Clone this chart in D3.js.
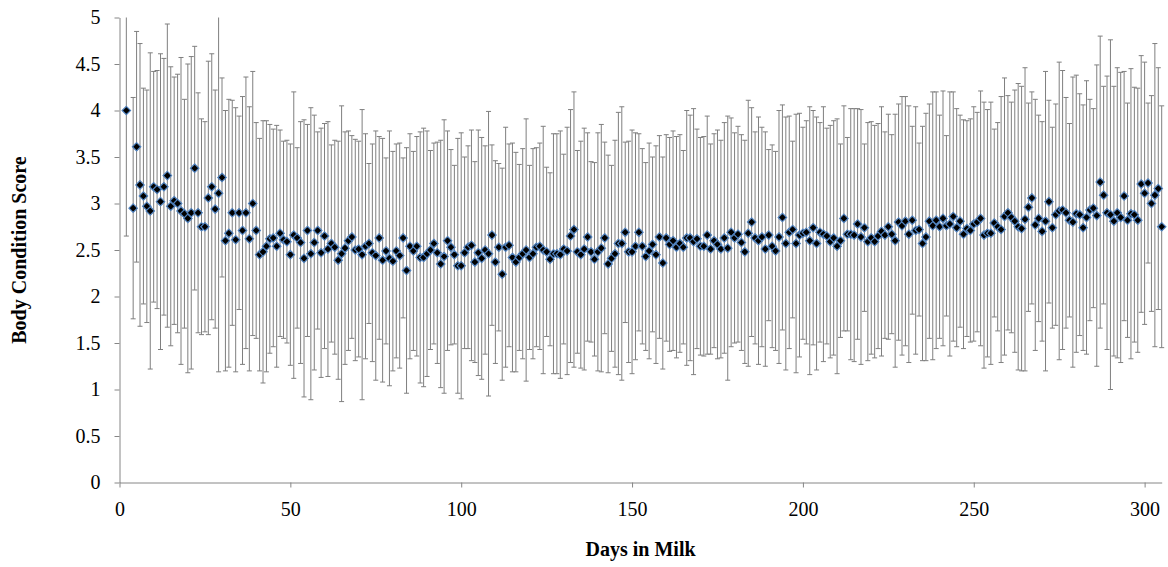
<!DOCTYPE html>
<html>
<head>
<meta charset="UTF-8">
<title>Body Condition Score by Days in Milk</title>
<script src="https://d3js.org/d3.v7.min.js"></script>
<style>
  body { margin: 0; background: #fff; }
  svg { display: block; }
</style>
</head>
<body>
<svg id="chart" width="1168" height="567"></svg>
<script>
// days in milk (day 3 has no record)
var days = [
  2, 4, 5, 6, 7, 8, 9, 10, 11, 12,
  13, 14, 15, 16, 17, 18, 19, 20, 21, 22,
  23, 24, 25, 26, 27, 28, 29, 30, 31, 32,
  33, 34, 35, 36, 37, 38, 39, 40, 41, 42,
  43, 44, 45, 46, 47, 48, 49, 50, 51, 52,
  53, 54, 55, 56, 57, 58, 59, 60, 61, 62,
  63, 64, 65, 66, 67, 68, 69, 70, 71, 72,
  73, 74, 75, 76, 77, 78, 79, 80, 81, 82,
  83, 84, 85, 86, 87, 88, 89, 90, 91, 92,
  93, 94, 95, 96, 97, 98, 99, 100, 101, 102,
  103, 104, 105, 106, 107, 108, 109, 110, 111, 112,
  113, 114, 115, 116, 117, 118, 119, 120, 121, 122,
  123, 124, 125, 126, 127, 128, 129, 130, 131, 132,
  133, 134, 135, 136, 137, 138, 139, 140, 141, 142,
  143, 144, 145, 146, 147, 148, 149, 150, 151, 152,
  153, 154, 155, 156, 157, 158, 159, 160, 161, 162,
  163, 164, 165, 166, 167, 168, 169, 170, 171, 172,
  173, 174, 175, 176, 177, 178, 179, 180, 181, 182,
  183, 184, 185, 186, 187, 188, 189, 190, 191, 192,
  193, 194, 195, 196, 197, 198, 199, 200, 201, 202,
  203, 204, 205, 206, 207, 208, 209, 210, 211, 212,
  213, 214, 215, 216, 217, 218, 219, 220, 221, 222,
  223, 224, 225, 226, 227, 228, 229, 230, 231, 232,
  233, 234, 235, 236, 237, 238, 239, 240, 241, 242,
  243, 244, 245, 246, 247, 248, 249, 250, 251, 252,
  253, 254, 255, 256, 257, 258, 259, 260, 261, 262,
  263, 264, 265, 266, 267, 268, 269, 270, 271, 272,
  273, 274, 275, 276, 277, 278, 279, 280, 281, 282,
  283, 284, 285, 286, 287, 288, 289, 290, 291, 292,
  293, 294, 295, 296, 297, 298, 299, 300, 301, 302,
  303, 304, 305
];

// mean body condition score per day
var meanBCS = [
  4.00, 2.95, 3.61, 3.20, 3.08, 2.97, 2.92, 3.18, 3.15, 3.02,
  3.18, 3.30, 2.97, 3.03, 3.00, 2.92, 2.89, 2.84, 2.90, 3.38,
  2.90, 2.75, 2.75, 3.06, 3.18, 2.94, 3.11, 3.28, 2.60, 2.68,
  2.90, 2.61, 2.90, 2.71, 2.90, 2.62, 3.00, 2.71, 2.45, 2.48,
  2.54, 2.62, 2.63, 2.54, 2.68, 2.61, 2.59, 2.45, 2.66, 2.63,
  2.58, 2.41, 2.71, 2.46, 2.58, 2.71, 2.47, 2.65, 2.51, 2.57,
  2.53, 2.39, 2.46, 2.52, 2.60, 2.64, 2.50, 2.51, 2.45, 2.54,
  2.57, 2.47, 2.44, 2.63, 2.39, 2.49, 2.41, 2.38, 2.49, 2.44,
  2.63, 2.28, 2.54, 2.49, 2.54, 2.42, 2.42, 2.46, 2.50, 2.57,
  2.47, 2.35, 2.43, 2.60, 2.53, 2.45, 2.33, 2.33, 2.47, 2.53,
  2.55, 2.37, 2.47, 2.41, 2.50, 2.46, 2.66, 2.37, 2.53, 2.24,
  2.53, 2.55, 2.42, 2.37, 2.42, 2.46, 2.50, 2.42, 2.46, 2.53,
  2.54, 2.50, 2.48, 2.40, 2.46, 2.46, 2.45, 2.51, 2.49, 2.65,
  2.72, 2.48, 2.45, 2.51, 2.64, 2.48, 2.40, 2.48, 2.52, 2.63,
  2.35, 2.41, 2.46, 2.57, 2.57, 2.69, 2.48, 2.48, 2.54, 2.69,
  2.54, 2.43, 2.49, 2.56, 2.45, 2.64, 2.36, 2.63, 2.56, 2.60,
  2.53, 2.57, 2.53, 2.63, 2.63, 2.59, 2.62, 2.54, 2.54, 2.66,
  2.51, 2.60, 2.56, 2.51, 2.63, 2.52, 2.69, 2.63, 2.67, 2.58,
  2.48, 2.68, 2.80, 2.63, 2.60, 2.64, 2.51, 2.66, 2.54, 2.49,
  2.64, 2.85, 2.57, 2.69, 2.72, 2.57, 2.66, 2.68, 2.69, 2.60,
  2.74, 2.57, 2.69, 2.67, 2.65, 2.59, 2.63, 2.54, 2.60, 2.84,
  2.67, 2.67, 2.66, 2.78, 2.64, 2.74, 2.59, 2.63, 2.59, 2.65,
  2.70, 2.66, 2.75, 2.67, 2.60, 2.80, 2.76, 2.81, 2.67, 2.82,
  2.71, 2.72, 2.57, 2.64, 2.81, 2.76, 2.82, 2.75, 2.84, 2.76,
  2.78, 2.86, 2.74, 2.81, 2.67, 2.73, 2.71, 2.78, 2.80, 2.84,
  2.66, 2.68, 2.68, 2.79, 2.75, 2.72, 2.86, 2.90, 2.85, 2.81,
  2.75, 2.73, 2.83, 2.96, 3.06, 2.77, 2.84, 2.70, 2.81, 3.02,
  2.74, 2.88, 2.92, 2.93, 2.90, 2.82, 2.80, 2.89, 2.88, 2.74,
  2.85, 2.93, 2.95, 2.87, 3.23, 3.09, 2.90, 2.88, 2.81, 2.90,
  2.85, 3.08, 2.82, 2.89, 2.88, 2.82, 3.21, 3.11, 3.22, 3.00,
  3.09, 3.16, 2.75
];

// standard deviation per day (error bar half-length)
var sdBCS = [
  1.35, 1.19, 1.24, 1.52, 1.16, 1.25, 1.70, 1.24, 1.28, 1.59,
  1.38, 1.63, 1.50, 1.33, 1.39, 1.65, 1.23, 1.66, 1.68, 1.31,
  1.29, 1.16, 1.13, 1.47, 1.43, 1.28, 1.92, 1.07, 1.40, 1.44,
  1.21, 1.42, 1.04, 1.44, 1.46, 1.42, 1.42, 1.16, 1.25, 1.41,
  1.35, 1.23, 1.17, 1.30, 1.11, 1.06, 1.09, 1.19, 1.54, 0.97,
  1.30, 1.49, 1.14, 1.57, 1.37, 1.06, 1.34, 1.21, 1.37, 1.06,
  1.15, 1.28, 1.59, 1.25, 1.18, 1.09, 1.19, 1.16, 1.56, 1.21,
  0.86, 1.17, 1.34, 1.09, 1.31, 1.00, 1.37, 1.18, 1.15, 1.21,
  0.86, 1.32, 1.21, 1.07, 1.18, 1.35, 1.39, 1.32, 1.07, 1.08,
  1.19, 1.33, 1.47, 1.18, 1.05, 0.96, 1.37, 1.43, 1.03, 1.09,
  1.24, 1.08, 1.32, 1.30, 1.12, 1.53, 0.97, 1.09, 0.90, 1.14,
  1.29, 1.09, 1.23, 1.18, 1.00, 1.13, 1.41, 0.99, 1.13, 1.07,
  1.11, 1.33, 0.91, 0.93, 1.29, 1.29, 1.33, 1.02, 1.33, 1.36,
  1.48, 1.09, 1.22, 1.30, 1.12, 0.97, 1.04, 1.28, 1.33, 1.03,
  1.17, 1.00, 1.22, 1.41, 1.47, 0.97, 1.19, 1.31, 1.22, 1.06,
  1.05, 1.01, 1.16, 0.94, 1.17, 1.09, 1.14, 1.11, 1.15, 1.18,
  1.19, 1.17, 1.04, 1.37, 1.32, 1.43, 1.18, 1.17, 1.18, 1.28,
  1.13, 1.15, 1.23, 1.17, 1.24, 1.42, 1.23, 1.13, 1.16, 1.16,
  1.20, 1.43, 1.23, 1.14, 1.33, 1.18, 1.26, 0.92, 1.09, 1.07,
  1.36, 1.21, 1.36, 1.25, 0.95, 1.39, 1.31, 1.14, 1.20, 1.44,
  1.26, 1.36, 1.18, 1.37, 1.16, 1.25, 1.26, 1.37, 1.04, 1.21,
  1.04, 1.35, 1.36, 1.24, 1.37, 0.90, 1.28, 1.25, 1.25, 1.21,
  1.34, 1.11, 1.21, 1.07, 1.36, 1.27, 1.39, 1.34, 1.38, 1.01,
  1.33, 0.93, 1.26, 1.33, 1.26, 1.44, 1.38, 1.20, 1.37, 0.97,
  1.42, 1.34, 1.28, 1.14, 1.23, 1.16, 1.20, 1.26, 1.18, 1.37,
  1.43, 1.33, 1.41, 1.01, 1.12, 1.43, 1.49, 1.26, 1.24, 1.41,
  1.54, 1.53, 1.63, 1.12, 1.14, 1.35, 1.11, 1.18, 1.61, 1.09,
  1.08, 1.19, 1.60, 1.50, 1.24, 1.04, 1.56, 1.49, 1.30, 1.32,
  1.47, 1.19, 1.07, 1.62, 1.57, 1.17, 1.47, 1.88, 1.45, 1.56,
  1.56, 1.34, 1.26, 1.56, 1.37, 1.42, 1.38, 1.41, 0.86, 1.16,
  1.63, 1.30, 1.30
];

var xTicks = [0, 50, 100, 150, 200, 250, 300];
var yTicks = [0, 0.5, 1, 1.5, 2, 2.5, 3, 3.5, 4, 4.5, 5];

(function drawChart() {
  var plotLeft = 119.5, plotRight = 1161.7, plotTop = 17.5, plotBottom = 482.5;
  var axisColor = "#868686";
  var barColor = "#7f7f7f";
  var fontFamily = "'Liberation Serif', 'Times New Roman', serif";

  var svg = d3.select("#chart");

  var x = d3.scaleLinear().domain([0, 305]).range([plotLeft, plotRight]);
  var y = d3.scaleLinear().domain([0, 5]).range([plotBottom, plotTop]);

  var data = days.map(function (d, i) {
    return { day: d, mean: meanBCS[i], sd: sdBCS[i] };
  });

  svg.append("defs").append("clipPath").attr("id", "plotClip")
    .append("rect")
    .attr("x", plotLeft - 10).attr("y", plotTop)
    .attr("width", plotRight - plotLeft + 20).attr("height", plotBottom - plotTop);

  // error bars, clipped to the plot area like the spreadsheet does
  var bars = svg.append("g").attr("clip-path", "url(#plotClip)")
    .attr("stroke", barColor).attr("stroke-width", 1).attr("fill", "none");

  bars.selectAll("line.stem").data(data).enter().append("line")
    .attr("class", "stem")
    .attr("x1", function (d) { return x(d.day); })
    .attr("x2", function (d) { return x(d.day); })
    .attr("y1", function (d) { return y(d.mean + d.sd); })
    .attr("y2", function (d) { return y(Math.max(0, d.mean - d.sd)); });

  bars.selectAll("line.capHi").data(data).enter().append("line")
    .attr("class", "capHi")
    .attr("x1", function (d) { return x(d.day) - 2.5; })
    .attr("x2", function (d) { return x(d.day) + 2.5; })
    .attr("y1", function (d) { return y(d.mean + d.sd); })
    .attr("y2", function (d) { return y(d.mean + d.sd); });

  bars.selectAll("line.capLo").data(data).enter().append("line")
    .attr("class", "capLo")
    .attr("x1", function (d) { return x(d.day) - 2.5; })
    .attr("x2", function (d) { return x(d.day) + 2.5; })
    .attr("y1", function (d) { return y(d.mean - d.sd); })
    .attr("y2", function (d) { return y(d.mean - d.sd); });

  // axes
  var yAxis = d3.axisLeft(y).tickValues(yTicks).tickFormat(d3.format(""))
    .tickSize(5).tickSizeOuter(0).tickPadding(14);
  var xAxis = d3.axisBottom(x).tickValues(xTicks).tickFormat(d3.format("d"))
    .tickSize(5).tickSizeOuter(0).tickPadding(14);

  var gy = svg.append("g").attr("transform", "translate(" + plotLeft + ",0)").call(yAxis);
  var gx = svg.append("g").attr("transform", "translate(0," + plotBottom + ")").call(xAxis);

  [gx, gy].forEach(function (g) {
    g.select(".domain").attr("stroke", axisColor);
    g.selectAll(".tick line").attr("stroke", axisColor);
    g.selectAll(".tick text").attr("fill", "#000")
      .style("font-family", fontFamily).style("font-size", "20px");
  });

  // diamond markers
  var r = 4.2;
  svg.append("g").selectAll("path").data(data).enter().append("path")
    .attr("transform", function (d) { return "translate(" + x(d.day) + "," + y(d.mean) + ")"; })
    .attr("d", "M0," + (-r) + "L" + r + ",0L0," + r + "L" + (-r) + ",0Z")
    .attr("fill", "#000")
    .attr("stroke", "#4f81bd")
    .attr("stroke-width", 1.2);

  // axis titles
  svg.append("text")
    .attr("x", (plotLeft + plotRight) / 2).attr("y", 556)
    .attr("text-anchor", "middle")
    .style("font-family", fontFamily).style("font-size", "20px").style("font-weight", "bold")
    .text("Days in Milk");

  svg.append("text")
    .attr("transform", "translate(26," + ((plotTop + plotBottom) / 2) + ") rotate(-90)")
    .attr("text-anchor", "middle")
    .style("font-family", fontFamily).style("font-size", "20px").style("font-weight", "bold")
    .text("Body Condition Score");
})();
</script>
</body>
</html>
